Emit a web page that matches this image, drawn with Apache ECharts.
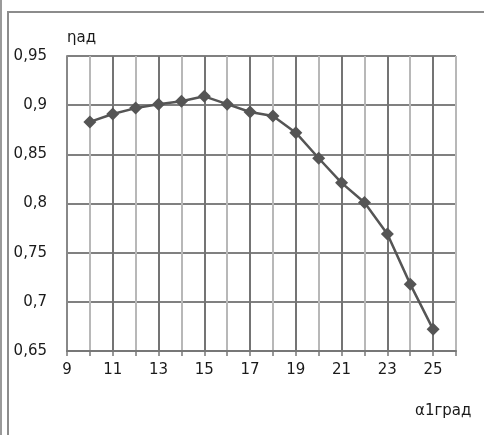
<!DOCTYPE html>
<html>
<head>
<meta charset="utf-8">
<style>
  html, body { margin: 0; padding: 0; background: #ffffff; }
  #chart { width: 484px; height: 435px; }
</style>
<script src="https://cdn.jsdelivr.net/npm/echarts@6/dist/echarts.min.js"></script>
</head>
<body>
<div id="chart"></div>
<script>
// Blade inlet angle α1 (degrees) and adiabatic efficiency ηад
const alphaDeg = [10, 11, 12, 13, 14, 15, 16, 17, 18, 19, 20, 21, 22, 23, 24, 25];
const etaAd    = [0.883, 0.891, 0.897, 0.901, 0.904, 0.909, 0.901, 0.893, 0.889, 0.872, 0.846, 0.821, 0.801, 0.769, 0.718, 0.672];

const xMin = 9, xMax = 26;
const yMin = 0.65, yMax = 0.95, yStep = 0.05;

const points = alphaDeg.map((a, i) => [a, etaAd[i]]);

const chart = echarts.init(document.getElementById('chart'), null, { renderer: 'canvas' });
const font = 'DejaVu Sans';
const textColor = '#1a1a1a';

chart.setOption({
  animation: false,
  backgroundColor: '#ffffff',
  graphic: [
    { type: 'line', shape: { x1: 1, y1: 0, x2: 1, y2: 435 }, style: { stroke: '#9a9a9a', lineWidth: 2 } },
    { type: 'polyline', shape: { points: [[8, 435], [8, 12], [484, 12]] }, style: { stroke: '#8c8c8c', lineWidth: 2, fill: null } }
  ],
  grid: { left: 67, right: 28, top: 56, bottom: 84, containLabel: false },
  xAxis: {
    type: 'value',
    min: xMin, max: xMax, interval: 1,
    name: 'α1град',
    nameLocation: 'end',
    nameGap: -41,
    nameTextStyle: { fontFamily: font, fontSize: 15, color: textColor, align: 'left', verticalAlign: 'top', padding: [53, 0, 0, 0] },
    axisLine: { show: true, onZero: false, lineStyle: { color: '#777', width: 2 } },
    axisTick: { show: true, length: 5, lineStyle: { color: '#777', width: 1.5 } },
    axisLabel: {
      fontFamily: font, fontSize: 15, color: textColor, margin: 12,
      formatter: v => (v % 2 === 1 && v <= 25) ? String(v) : ''
    },
    splitLine: { show: true, lineStyle: { color: ['#747474', '#b8b8b8'], width: 2 } }
  },
  yAxis: {
    type: 'value',
    min: yMin, max: yMax, interval: yStep,
    name: 'ηад',
    nameLocation: 'end',
    nameGap: 10,
    nameTextStyle: { fontFamily: font, fontSize: 15, color: textColor, align: 'left' },
    axisLine: { show: true, lineStyle: { color: '#888', width: 2 } },
    axisTick: { show: false },
    axisLabel: {
      fontFamily: font, fontSize: 15, color: textColor, margin: 20,
      formatter: v => String(Math.round(v * 100) / 100).replace('.', ',')
    },
    splitLine: { show: true, lineStyle: { color: '#808080', width: 2 } }
  },
  series: [{
    type: 'line',
    data: points,
    symbol: 'diamond',
    symbolSize: 13,
    lineStyle: { color: '#555555', width: 2.5 },
    itemStyle: { color: '#555555' },
    z: 5
  }]
});
</script>
</body>
</html>
